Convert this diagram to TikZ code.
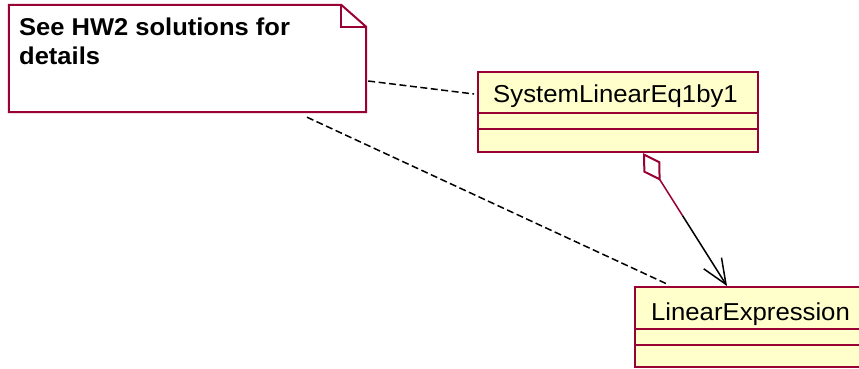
\documentclass[tikz,border=0pt]{standalone}
\usepackage{fontspec}
\setmainfont[FakeStretch=1.05]{Liberation Sans}
\usetikzlibrary{arrows.meta,calc}
\definecolor{umlborder}{RGB}{153,0,51}
\definecolor{umlfill}{RGB}{255,255,204}
\tikzset{
  classbox/.style={draw=umlborder, fill=umlfill, line width=2pt, inner sep=0pt},
  compline/.style={draw=umlborder, line width=2pt},
  classname/.style={font=\fontsize{24.5}{29}\selectfont, inner sep=0pt, anchor=base},
  notetext/.style={font=\fontsize{24.3}{29}\selectfont\bfseries, inner sep=0pt, anchor=base west},
  anchorline/.style={draw=black, line width=1.5pt, dash pattern=on 7pt off 3.5pt},
  aggline/.style={draw=umlborder, line width=1.5pt},
  navline/.style={draw=black, line width=1.5pt}
}
\begin{document}
\begin{tikzpicture}[x=1pt, y=-1pt]
  \useasboundingbox (0,0) rectangle (859,368);

  % note with folded corner
  \node[inner sep=0pt, minimum width=357pt, minimum height=107pt] (note) at (187.5,58.5) {};
  \draw[umlborder, line width=2pt, fill=white]
    (note.north west) -- ([xshift=-25pt]note.north east)
    -- ([yshift=-22pt]note.north east) -- (note.south east)
    -- (note.south west) -- cycle;
  \draw[umlborder, line width=2pt]
    ([xshift=-25pt]note.north east) -- ([xshift=-25pt,yshift=-22pt]note.north east)
    -- ([yshift=-22pt]note.north east);
  \node[notetext] (noteA) at (19,35) {See HW2 solutions for};
  \node[notetext] (noteB) at (19,64) {details};

  % class SystemLinearEq1by1
  \node[classbox, minimum width=280pt, minimum height=80pt] (sys) at (618,112) {};
  \draw[compline] (478,113) -- (758,113);
  \draw[compline] (478,129) -- (758,129);
  \node[classname] (sysname) at (615.5,102.5) {SystemLinearEq1by1};

  % class LinearExpression (runs past the right edge)
  \node[classbox, minimum width=228pt, minimum height=80pt] (lin) at (749,327) {};
  \draw[compline] (635,329) -- (863,329);
  \draw[compline] (635,345) -- (863,345);
  \node[classname] (linname) at (750.5,320) {LinearExpression};

  % note anchors
  \draw[anchorline] ([xshift=2pt,yshift=-22.5pt]note.east) -- ([xshift=-3pt,yshift=18pt]sys.west);
  \draw[anchorline] ([xshift=119.5pt,yshift=-5pt]note.south) -- ([xshift=-82pt,yshift=2pt]lin.north);

  % aggregation
  \coordinate (aggS) at ([xshift=25pt]sys.south);
  \coordinate (aggE) at ([xshift=-22pt]lin.north);
  \coordinate (aggM) at ($(aggS)!0.47!(aggE)$);
  \draw[aggline, {Diamond[open, length=33pt, width=20pt, line width=2pt]}-] (aggS) -- (aggM);
  \draw[navline, -{Straight Barb[length=25pt, width=21pt, line width=1.5pt]}] (aggM) -- (aggE);
\end{tikzpicture}
\end{document}
